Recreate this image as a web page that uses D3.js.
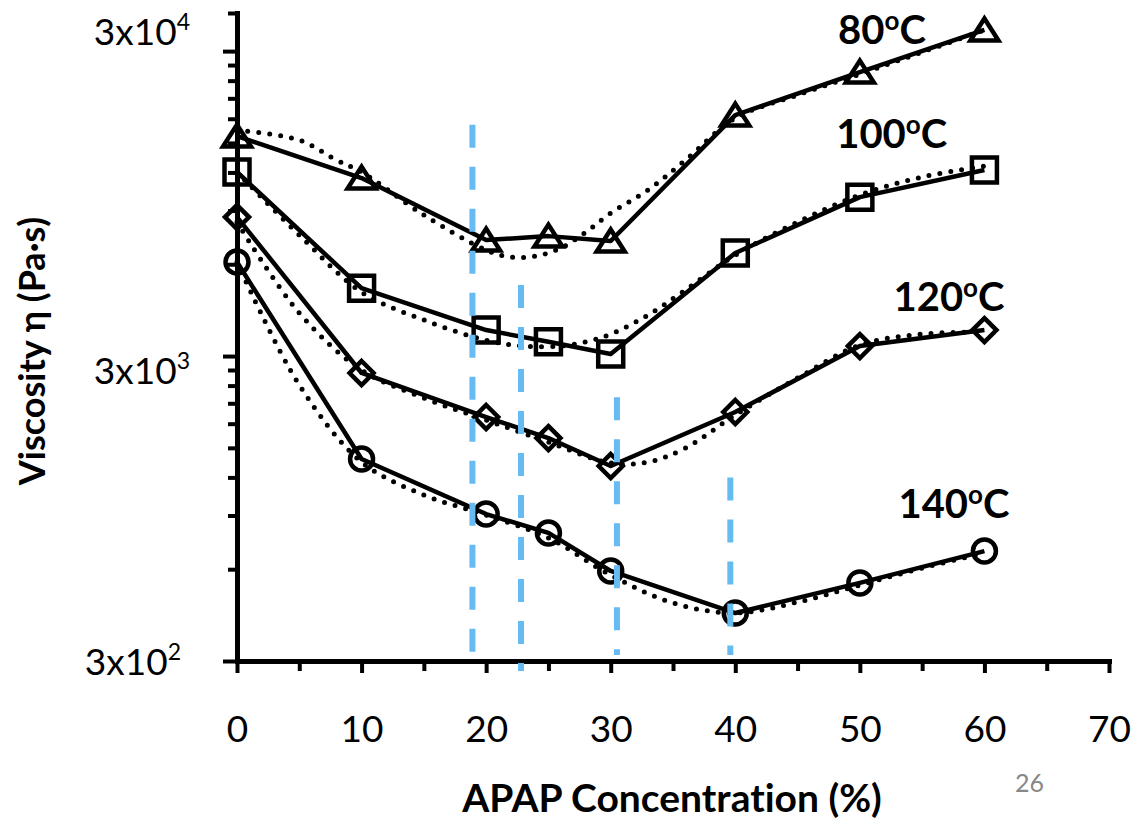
<!DOCTYPE html>
<html><head><meta charset="utf-8">
<script src="https://cdn.jsdelivr.net/npm/d3@7"></script>
<style>
html,body{margin:0;padding:0;background:#fff;}
svg{display:block;font-family:Lato,"Open Sans",sans-serif;font-variant-ligatures:none;}
</style></head><body>
<svg id="chart" width="1147" height="821"></svg>
<script>
// ---------- data ----------
const concentration = [0, 10, 20, 25, 30, 40, 50, 60];
const visc80  = [15790, 11500, 7200, 7420, 7150, 18500, 25600, 35200];
const visc100 = [12040, 5010, 3650, 3340, 3046, 6530, 9960, 12220];
const visc120 = [8570, 2640, 1893, 1615, 1308, 1966, 3235, 3650];
const visc140 = [6100, 1379, 910, 789, 592, 431, 541, 688];

// dotted fitted curves
const fitX80  = [0, 5, 8, 10, 15, 20, 22, 24, 26, 28, 30, 33, 36, 40, 45, 50, 55, 60];
const fit80   = [16520, 15320, 13170, 12040, 8700, 6680, 6330, 6380, 6780, 7650, 8830, 10510, 13170, 18090, 21520, 25220, 29770, 35170];
const fitX100 = [0, 5, 10, 15, 20, 23, 26, 28, 30, 33, 36, 40, 45, 50, 55, 60];
const fit100  = [12040, 7480, 4860, 3940, 3380, 3235, 3235, 3340, 3540, 4090, 4940, 6430, 8250, 10120, 11590, 12590];
const fitX120 = [0, 5, 10, 15, 20, 25, 30, 33, 36, 40, 45, 50, 55, 60];
const fit120  = [8250, 4150, 2700, 2185, 1850, 1567, 1338, 1348, 1498, 1922, 2541, 3260, 3540, 3597];
const fitX140 = [0, 5, 10, 15, 20, 25, 30, 35, 40, 45, 50, 55, 60];
const fit140  = [6100, 2410, 1348, 1051, 903, 760, 574, 465, 431, 468, 532, 605, 678];

const seriesNames = ["80", "100", "120", "140"];
const labelX = [48.25, 48.1, 52.7, 53.1];
const labelY = [31600, 14430, 4214, 883];

const xTicks = [0, 10, 20, 30, 40, 50, 60, 70];
const xMinorTicks = [5, 15, 25, 35, 45, 55, 65];
const yMajorTicks = [300, 3000, 30000];
const yMinorTicks = [600, 900, 1200, 1500, 1800, 2100, 2400, 2700,
                     6000, 9000, 12000, 15000, 18000, 21000, 24000, 27000, 40000];
const yTickBase = ["3x10", "3x10", "3x10"];
const yTickExp  = ["2", "3", "4"];

const dividerX = [18.9, 22.8, 30.5, 39.6];
const dividerTop = [17200, 5130, 2200, 1200];
const dividerBottom = [316, 278, 314, 314];

// ---------- scales ----------
const svg = d3.select("#chart");
const x = d3.scaleLinear().domain([0, 70]).range([237, 1109]);
const y = d3.scaleLog().domain([300, 40000]).range([661, 13]);
const X0 = 237, Y0 = 661;

// ---------- axes ----------
const gxMinor = svg.append("g").attr("transform", `translate(0,${Y0})`)
  .call(d3.axisBottom(x).tickValues(xMinorTicks).tickSize(10).tickSizeOuter(0).tickFormat(""));
const gx = svg.append("g").attr("transform", `translate(0,${Y0})`)
  .call(d3.axisBottom(x).tickValues(xTicks).tickSize(12).tickSizeOuter(0).tickFormat(d3.format("d")));
const gyMinor = svg.append("g").attr("transform", `translate(${X0},0)`)
  .call(d3.axisLeft(y).tickValues(yMinorTicks).tickSize(9).tickSizeOuter(0).tickFormat(""));
const gy = svg.append("g").attr("transform", `translate(${X0},0)`)
  .call(d3.axisLeft(y).tickValues(yMajorTicks).tickSize(14).tickSizeOuter(0).tickFormat(""));

[gxMinor, gx, gyMinor, gy].forEach(g => {
  g.selectAll(".domain").attr("stroke", "#000").attr("stroke-width", 5).attr("stroke-linecap", "square");
  g.selectAll(".tick line").attr("stroke", "#000").attr("stroke-width", 4);
});
gx.selectAll(".tick text").attr("y", 81).attr("dy", "0").attr("font-size", 37)
  .attr("fill", "#000").attr("font-family", "Lato");

// y tick labels with superscripts
const yLabelRight = {300: -56, 3000: -47, 30000: -47};
const yLabelShift = {300: 13, 3000: 27, 30000: -7};
gy.selectAll(".tick").each(function(d) {
  const t = d3.select(this).append("text")
    .attr("x", yLabelRight[d]).attr("y", yLabelShift[d])
    .attr("text-anchor", "end").attr("fill", "#000")
    .attr("font-size", 37).attr("font-family", "Lato");
  const k = yMajorTicks.indexOf(d);
  t.append("tspan").text(yTickBase[k]);
  t.append("tspan").attr("font-size", 23).attr("dy", -15).text(yTickExp[k]);
});

// ---------- curves ----------
const lineSolid = d3.line().x(d => x(d[0])).y(d => y(d[1]));
const lineFit = d3.line().x(d => x(d[0])).y(d => y(d[1])).curve(d3.curveCatmullRom.alpha(0.5));

const series = [visc80, visc100, visc120, visc140];
const fits = [[fitX80, fit80], [fitX100, fit100], [fitX120, fit120], [fitX140, fit140]];

const plot = svg.append("g");
fits.forEach(([fx, fy]) => {
  plot.append("path").datum(fx.map((v, i) => [v, fy[i]]))
    .attr("d", lineFit).attr("fill", "none").attr("stroke", "#000")
    .attr("stroke-width", 5).attr("stroke-linecap", "round")
    .attr("stroke-dasharray", "0 11");
});
series.forEach(s => {
  plot.append("path").datum(concentration.map((c, i) => [c, s[i]]))
    .attr("d", lineSolid).attr("fill", "none").attr("stroke", "#000")
    .attr("stroke-width", 4.5).attr("stroke-linejoin", "round");
});

// markers
const markerPaths = [
  "M0,-11.5L14,10.5L-14,10.5Z",        // triangle
  "M-12.5,-12.5H12.5V12.5H-12.5Z",     // square
  "M0,-12L12,0L0,12L-12,0Z",           // diamond
  null                                  // circle
];
series.forEach((s, k) => {
  const g = plot.append("g");
  concentration.forEach((c, i) => {
    if (markerPaths[k]) {
      g.append("path").attr("d", markerPaths[k])
        .attr("transform", `translate(${x(c)},${y(s[i])})`)
        .attr("fill", "none").attr("stroke", "#000").attr("stroke-width", 4.5)
        .attr("stroke-linejoin", "miter");
    } else {
      g.append("circle").attr("cx", x(c)).attr("cy", y(s[i])).attr("r", 11.5)
        .attr("fill", "none").attr("stroke", "#000").attr("stroke-width", 4.5);
    }
  });
});

// blue dashed dividers
dividerX.forEach((d, i) => {
  svg.append("line")
    .attr("x1", x(d)).attr("x2", x(d))
    .attr("y1", y(dividerTop[i])).attr("y2", y(dividerBottom[i]))
    .attr("stroke", "#66BBF2").attr("stroke-width", 6)
    .attr("stroke-dasharray", "23 19");
});

// series labels
seriesNames.forEach((n, i) => {
  const t = svg.append("text").attr("x", x(labelX[i])).attr("y", y(labelY[i]))
    .attr("font-size", 40).attr("font-weight", "bold").attr("fill", "#000");
  t.append("tspan").text(n);
  t.append("tspan").attr("font-size", 26).attr("dy", -14).text("o");
  t.append("tspan").attr("dy", 14).text("C");
});

// axis titles
svg.append("text").attr("x", 672).attr("y", 812).attr("text-anchor", "middle")
  .attr("font-size", 39).attr("font-weight", "bold").text("APAP Concentration (%)");
svg.append("text").attr("transform", "translate(45,351) rotate(-90)").attr("text-anchor", "middle")
  .attr("font-size", 36).attr("font-weight", "bold").text("Viscosity η (Pa·s)");

// page number
svg.append("text").attr("x", 1015).attr("y", 792).attr("font-size", 25)
  .attr("fill", "#888").text("26");
</script>
</body></html>
